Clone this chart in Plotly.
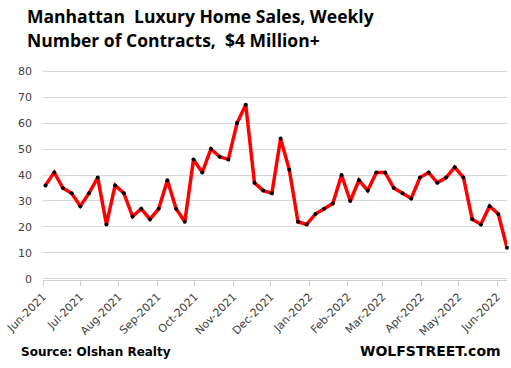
import plotly.graph_objects as go
import pandas as pd

start_date = "2021-06-03"
contracts = [36, 41, 35, 33, 28, 33, 39, 21, 36, 33, 24, 27, 23, 27, 38, 27, 22, 46, 41,
             50, 47, 46, 60, 67, 37, 34, 33, 54, 42, 22, 21, 25, 27, 29, 40, 30, 38,
             34, 41, 41, 35, 33, 31, 39, 41, 37, 39, 43, 39, 23, 21, 28, 25, 12]
weeks = pd.date_range(start_date, periods=len(contracts), freq="7D")

month_ticks = pd.date_range("2021-06-01", "2022-06-01", freq="MS")
month_labels = [d.strftime("%b-%Y") for d in month_ticks]
y_ticks = [0, 10, 20, 30, 40, 50, 60, 70, 80]

fig = go.Figure()
fig.add_trace(go.Scatter(
    x=weeks, y=contracts, mode="lines+markers",
    line=dict(color="#ff0000", width=3.5),
    marker=dict(color="black", size=4),
    cliponaxis=False,
    showlegend=False,
))

fig.update_layout(
    width=511, height=368,
    margin=dict(l=43, r=4, t=70, b=88),
    paper_bgcolor="white", plot_bgcolor="white",
    font=dict(family="DejaVu Sans", size=11, color="#404040"),
    xaxis=dict(
        range=["2021-06-01", "2022-06-09"], automargin=False,
        tickvals=month_ticks, ticktext=month_labels, tickangle=-45,
        showgrid=False, showline=True, linecolor="#d0d0d0", linewidth=1,
        ticks="outside", ticklen=5, tickcolor="#d0d0d0",
        tickfont=dict(size=11, color="#404040"),
    ),
    yaxis=dict(
        range=[-0.4, 80.4], tickvals=y_ticks, automargin=False,
        showgrid=True, gridcolor="#d9d9d9", gridwidth=1,
        zeroline=False, showline=False,
        ticklabelstandoff=10,
        tickfont=dict(size=11, color="#404040"),
    ),
)

PW, PH = 464, 210
fig.add_annotation(text="<b>Manhattan  Luxury Home Sales, Weekly</b>", xref="paper", yref="paper",
                   x=-18/PW, y=1 + (70-16)/PH, xanchor="left", yanchor="middle", showarrow=False,
                   font=dict(family="Open Sans", size=17.5, color="black"))
fig.add_annotation(text="<b>Number of Contracts,  $4 Million+</b>", xref="paper", yref="paper",
                   x=-18/PW, y=1 + (70-40)/PH, xanchor="left", yanchor="middle", showarrow=False,
                   font=dict(family="Open Sans", size=17.5, color="black"))
fig.add_annotation(text="<b>Source: Olshan Realty</b>", xref="paper", yref="paper",
                   x=-24/PW, y=-(352-280)/PH, xanchor="left", yanchor="middle", showarrow=False,
                   font=dict(family="DejaVu Sans", size=12, color="black"))
fig.add_annotation(text="<b>WOLFSTREET.com</b>", xref="paper", yref="paper",
                   x=(503-43)/PW, y=-(351-280)/PH, xanchor="right", yanchor="middle", showarrow=False,
                   font=dict(family="DejaVu Sans", size=14, color="black"))

fig.write_html("out.html", config={"displayModeBar": False},
               post_script="document.body.style.margin='0';document.body.style.overflow='hidden';")
